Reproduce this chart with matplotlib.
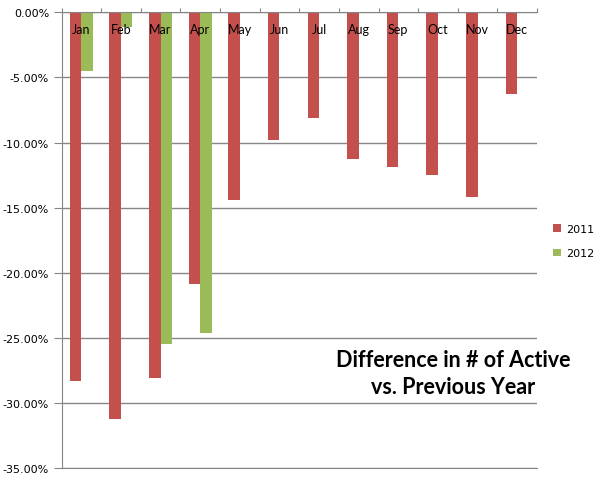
import numpy as np
import matplotlib.pyplot as plt
from matplotlib.ticker import FuncFormatter

months = ['Jan', 'Feb', 'Mar', 'Apr', 'May', 'Jun', 'Jul', 'Aug', 'Sep', 'Oct', 'Nov', 'Dec']
diff_2011 = [-28.3, -31.2, -28.05, -20.85, -14.4, -9.8, -8.1, -11.3, -11.85, -12.5, -14.15, -6.25]
diff_2012 = [-4.5, -1.1, -25.5, -24.6, np.nan, np.nan, np.nan, np.nan, np.nan, np.nan, np.nan, np.nan]
yticks = [0, -5, -10, -15, -20, -25, -30, -35]

fig = plt.figure(figsize=(6.06, 4.81), dpi=100, facecolor='w')
ax = fig.add_axes([61.5/606, 1-469/481, (537-61.5)/606, (469-13.3)/481])

x = np.arange(len(months))
w = 0.29
b1 = ax.bar(x - w/2, diff_2011, width=w, color='#C4504E', label='2011', zorder=2)
b2 = ax.bar(x + w/2, diff_2012, width=w, color='#9BBB59', label='2012', zorder=2)

ax.set_xlim(-0.5, 11.5)
ax.set_ylim(-35, 0)
ax.set_yticks(yticks)
ax.yaxis.set_major_formatter(FuncFormatter(lambda v, p: '%.2f%%' % v))
ax.tick_params(axis='y', direction='out', length=6, color='#868686', labelsize=8, pad=3)
ax.grid(axis='y', color='#868686', linewidth=1, zorder=1)

# x axis sits at the top (0%), ticks at category boundaries
ax.xaxis.tick_top()
ax.set_xticks(np.arange(-0.5, 12, 1))
ax.set_xticklabels([])
ax.tick_params(axis='x', direction='out', length=3, color='#868686')
for i, m in enumerate(months):
    ax.text(i, -1.3, m, ha='center', va='center', fontsize=9, family='Lato', zorder=3)

ax.spines['right'].set_visible(False)
for s in ['left', 'top', 'bottom']:
    ax.spines[s].set_color('#868686')

fig.legend(handles=[b1, b2], loc='upper left', bbox_to_anchor=(543/606, 1-215/481),
           frameon=False, fontsize=8, handlelength=0.7, handleheight=0.7,
           labelspacing=1.3, handletextpad=0.5)

fig.text(453/606, 1-374/481, 'Difference in # of Active\nvs. Previous Year', ha='center', va='center',
         fontsize=15.5, fontweight='bold', family='Lato', linespacing=1.35)

plt.savefig('out.png', dpi=100)
